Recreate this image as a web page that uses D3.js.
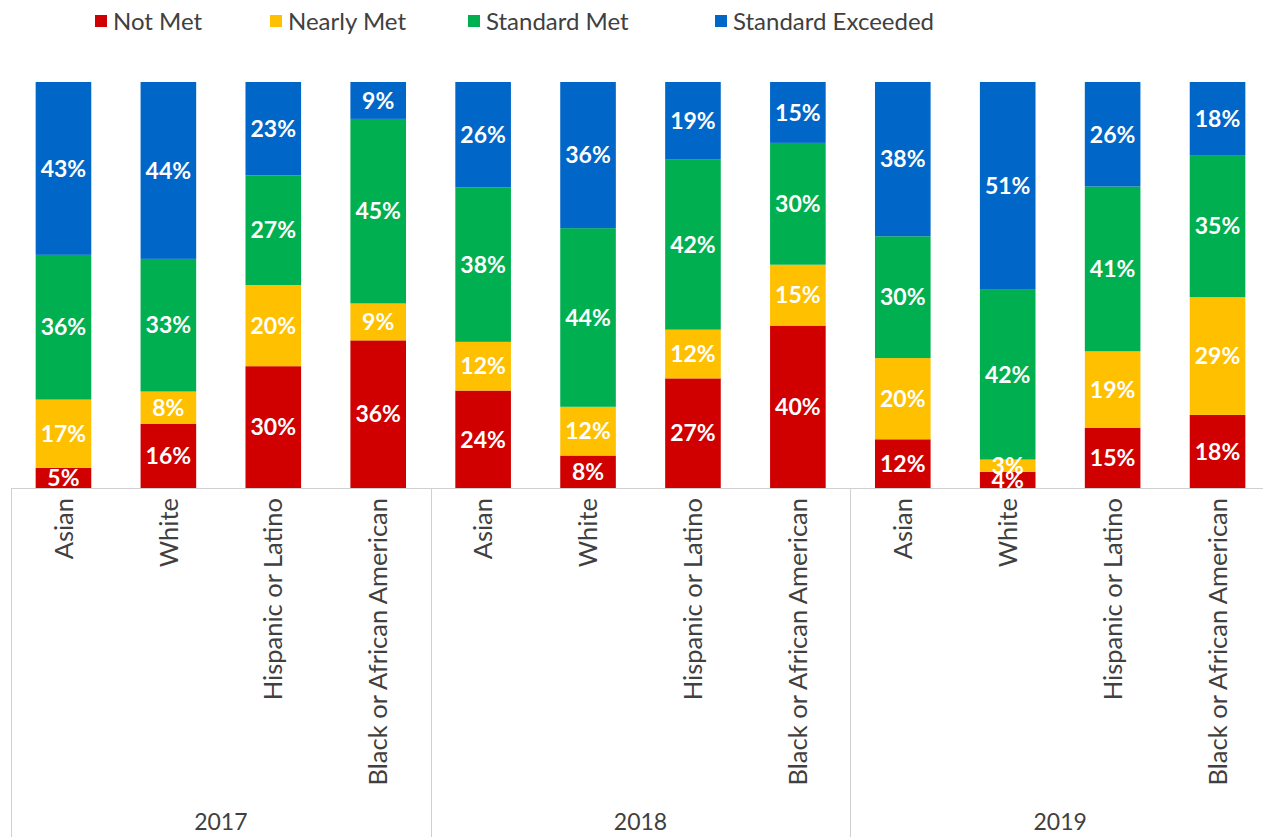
<!DOCTYPE html>
<html>
<head>
<meta charset="utf-8">
<script src="https://d3js.org/d3.v7.min.js"></script>
<style>
  body { margin: 0; background: #fff; }
  svg text { font-family: Lato, "Open Sans", sans-serif; }
</style>
</head>
<body>
<svg width="1263" height="837"></svg>
<script>
var years = ["2017", "2018", "2019"];
var groups = ["Asian", "White", "Hispanic or Latino", "Black or African American"];
var levels = ["Not Met", "Nearly Met", "Standard Met", "Standard Exceeded"];
var colors = ["#d00000", "#ffc000", "#00b050", "#0066c8"];

// percent per level, in the order of levels
var notMet      = [5, 16, 30, 36,  24, 8, 27, 40,  12, 4, 15, 18];
var nearlyMet   = [17, 8, 20, 9,   12, 12, 12, 15, 20, 3, 19, 29];
var standardMet = [36, 33, 27, 45, 38, 44, 42, 30, 30, 42, 41, 35];
var exceeded    = [43, 44, 23, 9,  26, 36, 19, 15, 38, 51, 26, 18];

var svg = d3.select("svg"),
    width = +svg.attr("width"),
    height = +svg.attr("height");

var rows = [];
years.forEach(function(y, yi) {
    groups.forEach(function(g, gi) {
        var i = yi * groups.length + gi;
        rows.push({
            key: y + "|" + g, year: y, group: g,
            "Not Met": notMet[i],
            "Nearly Met": nearlyMet[i],
            "Standard Met": standardMet[i],
            "Standard Exceeded": exceeded[i]
        });
    });
});

var plotLeft = 11, plotRight = 1270, plotTop = 82, base = 488;

var x = d3.scaleBand()
    .domain(rows.map(function(d) { return d.key; }))
    .range([plotLeft, plotRight])
    .paddingInner(0.47)
    .paddingOuter(0.235);

var y = d3.scaleLinear().domain([0, 1]).range([base, plotTop]);

var stack = d3.stack().keys(levels).offset(d3.stackOffsetExpand);
var series = stack(rows);

var layer = svg.append("g").selectAll("g")
    .data(series)
    .enter().append("g")
    .attr("fill", function(d, i) { return colors[i]; });

layer.selectAll("rect")
    .data(function(d) { return d; })
    .enter().append("rect")
    .attr("x", function(d) { return x(d.data.key); })
    .attr("width", x.bandwidth())
    .attr("y", function(d) { return y(d[1]); })
    .attr("height", function(d) { return y(d[0]) - y(d[1]); });

// value labels
svg.append("g").selectAll("g")
    .data(series)
    .enter().append("g")
    .selectAll("text")
    .data(function(s) { return s.map(function(d) { d.level = s.key; return d; }); })
    .enter().append("text")
    .attr("x", function(d) { return x(d.data.key) + x.bandwidth() / 2; })
    .attr("y", function(d) { return (y(d[0]) + y(d[1])) / 2; })
    .attr("dy", "0.36em")
    .attr("text-anchor", "middle")
    .attr("fill", "#fff")
    .attr("font-weight", "bold")
    .attr("font-size", 23)
    .text(function(d) { return d.data[d.level] + "%"; });

// axis line and group separators
var axisColor = "#d0d0d0";
svg.append("line")
    .attr("x1", plotLeft).attr("x2", width)
    .attr("y1", base + 0.5).attr("y2", base + 0.5)
    .attr("stroke", axisColor);

var step = x.step() * groups.length;
d3.range(years.length + 1).forEach(function(i) {
    var sx = Math.round(plotLeft + i * step) + 0.5;
    svg.append("line")
        .attr("x1", sx).attr("x2", sx)
        .attr("y1", base).attr("y2", height)
        .attr("stroke", axisColor);
});

// category labels (rotated)
svg.append("g").selectAll("text")
    .data(rows)
    .enter().append("text")
    .attr("transform", function(d) {
        return "translate(" + (x(d.key) + x.bandwidth() / 2) + "," + (base + 10) + ") rotate(-90)";
    })
    .attr("dy", "0.36em")
    .attr("text-anchor", "end")
    .attr("fill", "#404040")
    .attr("font-size", 25.5)
    .text(function(d) { return d.group; });

// year labels
svg.append("g").selectAll("text")
    .data(years)
    .enter().append("text")
    .attr("x", function(d, i) { return plotLeft + (i + 0.5) * step; })
    .attr("y", 830)
    .attr("text-anchor", "middle")
    .attr("fill", "#404040")
    .attr("font-size", 23)
    .text(function(d) { return d; });

// legend
var legendX = [95, 270, 468, 715];
var legend = svg.append("g").selectAll("g")
    .data(levels)
    .enter().append("g")
    .attr("transform", function(d, i) { return "translate(" + legendX[i] + ",15)"; });

legend.append("rect")
    .attr("width", 12).attr("height", 12)
    .attr("fill", function(d, i) { return colors[i]; });

legend.append("text")
    .attr("x", 18).attr("y", 6)
    .attr("dy", "0.36em")
    .attr("fill", "#404040")
    .attr("font-size", 24)
    .text(function(d) { return d; });
</script>
</body>
</html>
